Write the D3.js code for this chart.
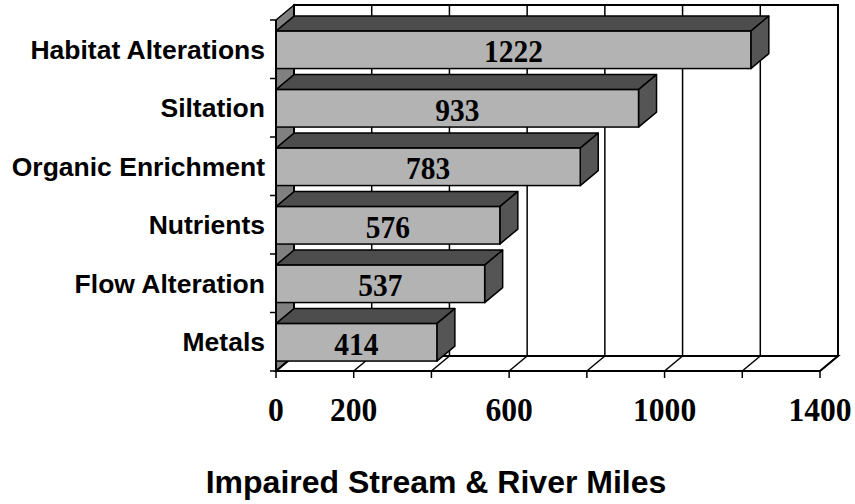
<!DOCTYPE html>
<html>
<head>
<meta charset="utf-8">
<script src="https://cdn.jsdelivr.net/npm/d3@7"></script>
<style>
  html, body { margin: 0; padding: 0; background: #fff; }
  svg { display: block; }
</style>
</head>
<body>
<svg id="chart" width="855" height="504"></svg>
<script>
// Impaired stream & river miles by cause
const categories = ["Habitat Alterations", "Siltation", "Organic Enrichment", "Nutrients", "Flow Alteration", "Metals"];
const miles = [1222, 933, 783, 576, 537, 414];
const tickValues = [0, 200, 400, 600, 800, 1000, 1200, 1400];
const tickLabels = [0, 200, 600, 1000, 1400];
const axisTitle = "Impaired Stream & River Miles";

const svg = d3.select("#chart");

// front plane of the 3-D box and the depth offset of its back plane
const plotL = 276, plotR = 820, plotT = 20, plotB = 371;
const dx = 18, dy = -15;

const x = d3.scaleLinear().domain([0, 1400]).range([plotL, plotR]);
const y = d3.scaleBand().domain(categories).range([plotT, plotB]);
const barInset = y.bandwidth() * 0.19;
const barH = y.bandwidth() * 0.64;

const data = categories.map((c, i) => ({ cat: c, v: miles[i] }));
const poly = pts => pts.map(p => p.join(",")).join(" ");

// left wall
svg.append("polygon")
  .attr("points", poly([[plotL, plotT], [plotL + dx, plotT + dy], [plotL + dx, plotB + dy], [plotL, plotB]]))
  .attr("fill", "#808080").attr("stroke", "#000").attr("stroke-width", 1.5);

// back wall with vertical gridlines
svg.append("rect")
  .attr("x", plotL + dx).attr("y", plotT + dy)
  .attr("width", plotR - plotL).attr("height", plotB - plotT)
  .attr("fill", "#fff").attr("stroke", "#000").attr("stroke-width", 2);
svg.append("g").selectAll("line").data(tickValues.filter(t => t > 0 && t < 1400)).join("line")
  .attr("x1", d => x(d) + dx).attr("x2", d => x(d) + dx)
  .attr("y1", plotT + dy).attr("y2", plotB + dy)
  .attr("stroke", "#000").attr("stroke-width", 1.5);

// floor
svg.append("polygon")
  .attr("points", poly([[plotL, plotB], [plotR, plotB], [plotR + dx, plotB + dy], [plotL + dx, plotB + dy]]))
  .attr("fill", "#fff").attr("stroke", "#000").attr("stroke-width", 2);
svg.append("g").selectAll("line").data(tickValues).join("line")
  .attr("x1", d => x(d)).attr("x2", d => x(d) + dx)
  .attr("y1", plotB).attr("y2", plotB + dy)
  .attr("stroke", "#000").attr("stroke-width", 1.5);

// 3-D bars
const bars = svg.append("g").selectAll("g").data(data).join("g");
bars.each(function (d) {
  const g = d3.select(this);
  const y0 = y(d.cat) + barInset, y1 = y0 + barH;
  const x0 = x(0), x1 = x(d.v);
  g.append("polygon")  // top face
    .attr("points", poly([[x0, y0], [x1, y0], [x1 + dx, y0 + dy], [x0 + dx, y0 + dy]]))
    .attr("fill", "#4d4d4d").attr("stroke", "#000").attr("stroke-width", 1.5).attr("stroke-linejoin", "round");
  g.append("polygon")  // end face
    .attr("points", poly([[x1, y0], [x1 + dx, y0 + dy], [x1 + dx, y1 + dy], [x1, y1]]))
    .attr("fill", "#555555").attr("stroke", "#000").attr("stroke-width", 1.5).attr("stroke-linejoin", "round");
  g.append("rect")     // front face
    .attr("x", x0).attr("y", y0).attr("width", x1 - x0).attr("height", barH)
    .attr("fill", "#b3b3b3").attr("stroke", "#000").attr("stroke-width", 1.5);
  g.append("text")
    .attr("transform", `translate(${(x0 + x1) / 2},${(y0 + y1) / 2 + 12.5}) scale(0.92,1)`)
    .attr("text-anchor", "middle")
    .attr("font-family", "'Liberation Serif', 'Times New Roman', serif")
    .attr("font-weight", "bold").attr("font-size", 32)
    .text(d.v);
});

// category axis
svg.append("line").attr("x1", plotL).attr("x2", plotL).attr("y1", plotT).attr("y2", plotB)
  .attr("stroke", "#000").attr("stroke-width", 2);
svg.append("g").selectAll("line").data(categories.concat([null])).join("line")
  .attr("x1", plotL - 6).attr("x2", plotL)
  .attr("y1", (d, i) => plotT + i * y.step()).attr("y2", (d, i) => plotT + i * y.step())
  .attr("stroke", "#000").attr("stroke-width", 1.5);
svg.append("g").selectAll("text").data(categories).join("text")
  .attr("x", 265).attr("y", d => y(d) + y.bandwidth() / 2)
  .attr("dy", "0.36em")
  .attr("text-anchor", "end")
  .attr("font-family", "'Liberation Sans', Arial, sans-serif")
  .attr("font-weight", "bold").attr("font-size", 26.5)
  .text(d => d);

// value axis
svg.append("line").attr("x1", plotL).attr("x2", plotR).attr("y1", plotB).attr("y2", plotB)
  .attr("stroke", "#000").attr("stroke-width", 2);
svg.append("g").selectAll("line").data(tickValues).join("line")
  .attr("x1", d => x(d)).attr("x2", d => x(d))
  .attr("y1", plotB).attr("y2", plotB + 7)
  .attr("stroke", "#000").attr("stroke-width", 1.5);
svg.append("g").selectAll("text").data(tickLabels).join("text")
  .attr("transform", d => `translate(${x(d)},421) scale(0.93,1)`)
  .attr("text-anchor", "middle")
  .attr("font-family", "'Liberation Serif', 'Times New Roman', serif")
  .attr("font-weight", "bold").attr("font-size", 34)
  .text(d => d);

// axis title
svg.append("text")
  .attr("x", 436).attr("y", 493)
  .attr("text-anchor", "middle")
  .attr("font-family", "'Liberation Sans', Arial, sans-serif")
  .attr("font-weight", "bold").attr("font-size", 32)
  .text(axisTitle);
</script>
</body>
</html>
